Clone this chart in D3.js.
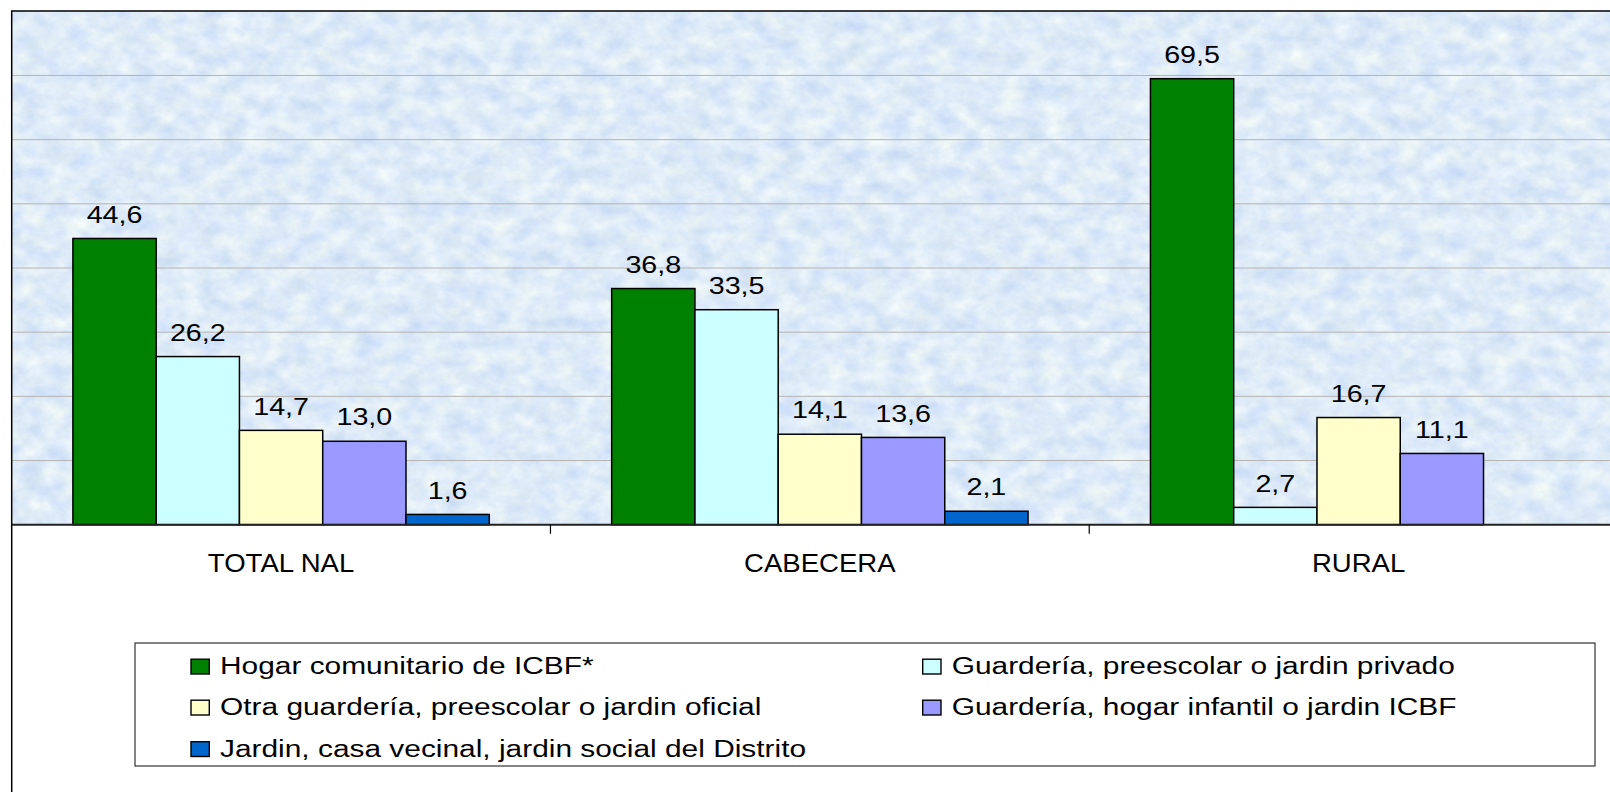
<!DOCTYPE html>
<html lang="es">
<head>
  <meta charset="UTF-8">
  <script src="https://cdnjs.cloudflare.com/ajax/libs/d3/7.8.5/d3.min.js"></script>
  <style>
    body { margin: 0; background: #fff; }
    text { font-family: "Liberation Sans", Arial, sans-serif; fill: #000; }
  </style>
</head>
<body>
<div id="container"></div>
<script>

// Data
const categories = ["TOTAL NAL", "CABECERA", "RURAL"];
const seriesNames = [
  "Hogar comunitario de ICBF*",
  "Guardería, preescolar o jardin privado",
  "Otra guardería, preescolar o jardin oficial",
  "Guardería, hogar infantil o jardin ICBF",
  "Jardin, casa vecinal, jardin social del Distrito"
];
const hogarComunitario = [44.6, 36.8, 69.5];
const guarderiaPrivado = [26.2, 33.5, 2.7];
const otraOficial = [14.7, 14.1, 16.7];
const guarderiaICBF = [13.0, 13.6, 11.1];
const jardinDistrito = [1.6, 2.1, null];
const yTicks = [0, 10, 20, 30, 40, 50, 60, 70, 80];

const seriesValues = [hogarComunitario, guarderiaPrivado, otraOficial, guarderiaICBF, jardinDistrito];
const colors = ["#008000", "#ccffff", "#ffffcc", "#9999ff", "#0066cc"];

const width = 1610;
const height = 792;
// the picture is stretched sideways, so text gets stretched too
const stretch = 1.22;

const plot = { left: 11.7, top: 11.3, right: 1628, bottom: 524.7 };

const svg = d3.create("svg")
    .attr("width", width)
    .attr("height", height);

// paper texture for the plot area
const defs = svg.append("defs");
const filter = defs.append("filter")
    .attr("id", "paper")
    .attr("x", 0).attr("y", 0).attr("width", 1).attr("height", 1)
    .attr("color-interpolation-filters", "sRGB");
filter.append("feTurbulence")
    .attr("type", "fractalNoise")
    .attr("baseFrequency", "0.045 0.06")
    .attr("numOctaves", 5)
    .attr("seed", 7)
    .attr("result", "noise");
filter.append("feColorMatrix")
    .attr("in", "noise")
    .attr("type", "matrix")
    .attr("values", "0.22 0 0 0 0.76  0.16 0 0 0 0.84  0.02 0.05 0 0 0.935  0 0 0 0 1");

const x0 = d3.scaleBand()
    .domain(categories)
    .range([plot.left, plot.right])
    .padding(0);

const x1 = d3.scaleBand()
    .domain(d3.range(seriesNames.length))
    .range([0, x0.bandwidth()])
    .paddingInner(0)
    .paddingOuter(0.735);

const y = d3.scaleLinear()
    .domain([0, 80])
    .range([plot.bottom, plot.top]);

svg.append("rect")
    .attr("x", plot.left)
    .attr("y", plot.top)
    .attr("width", plot.right - plot.left)
    .attr("height", plot.bottom - plot.top)
    .attr("filter", "url(#paper)");

// gridlines
svg.append("g")
    .selectAll("line")
    .data(yTicks.slice(1, -1))
    .join("line")
    .attr("x1", plot.left)
    .attr("x2", plot.right)
    .attr("y1", d => y(d))
    .attr("y2", d => y(d))
    .attr("stroke", "#b4b4b4")
    .attr("stroke-width", 1);

// bars
const fmt = v => d3.format(".1f")(v).replace(".", ",");

const groups = svg.append("g")
    .selectAll("g")
    .data(seriesValues)
    .join("g")
    .attr("fill", (d, i) => colors[i]);

groups.each(function(vals, s) {
    const g = d3.select(this);
    const pts = vals.map((v, c) => ({ v, c })).filter(d => d.v != null);
    g.selectAll("rect")
        .data(pts)
        .join("rect")
        .attr("x", d => x0(categories[d.c]) + x1(s))
        .attr("y", d => y(d.v))
        .attr("width", x1.bandwidth())
        .attr("height", d => y(0) - y(d.v))
        .attr("stroke", "#000")
        .attr("stroke-width", 1.5);
    g.selectAll("text")
        .data(pts)
        .join("text")
        .attr("transform", d => `translate(${x0(categories[d.c]) + x1(s) + x1.bandwidth() / 2},${y(d.v) - 15.8}) scale(${stretch},1)`)
        .attr("text-anchor", "middle")
        .style("font-size", "23.5px")
        .text(d => fmt(d.v));
});

// baseline and category ticks
svg.append("line")
    .attr("x1", plot.left).attr("x2", width + 20)
    .attr("y1", y(0)).attr("y2", y(0))
    .attr("stroke", "#222")
    .attr("stroke-width", 2);

svg.append("g")
    .selectAll("line")
    .data(categories.slice(1))
    .join("line")
    .attr("x1", d => x0(d)).attr("x2", d => x0(d))
    .attr("y1", y(0)).attr("y2", y(0) + 9)
    .attr("stroke", "#000")
    .attr("stroke-width", 1.2);

svg.append("g")
    .selectAll("text")
    .data(categories)
    .join("text")
    .attr("transform", d => `translate(${x0(d) + x0.bandwidth() / 2},571.8) scale(1.06,1)`)
    .attr("text-anchor", "middle")
    .style("font-size", "26px")
    .text(d => d);

// chart border (left and top edges visible)
svg.append("path")
    .attr("d", `M${plot.left},${height + 5}V${plot.top - 0.3}H${width + 5}`)
    .attr("fill", "none")
    .attr("stroke", "#000")
    .attr("stroke-width", 1.5);

// legend
const legend = svg.append("g");
legend.append("rect")
    .attr("x", 135).attr("y", 643)
    .attr("width", 1460).attr("height", 123)
    .attr("fill", "#fff")
    .attr("stroke", "#333")
    .attr("stroke-width", 1.2);

const colX = [191, 922.7];
const rowY = [674, 715, 756.5];

const items = legend.selectAll("g.item")
    .data(seriesNames)
    .join("g")
    .attr("class", "item")
    .attr("transform", (d, i) => `translate(${colX[i % 2]},${rowY[Math.floor(i / 2)]})`);

items.append("rect")
    .attr("x", 0).attr("y", -14.8)
    .attr("width", 18.3).attr("height", 14.8)
    .attr("fill", (d, i) => colors[i])
    .attr("stroke", "#000")
    .attr("stroke-width", 1.4);

items.append("text")
    .attr("transform", `translate(29,0) scale(${stretch},1)`)
    .style("font-size", "24.5px")
    .text(d => d);

document.getElementById("container").appendChild(svg.node());

</script>
</body>
</html>
